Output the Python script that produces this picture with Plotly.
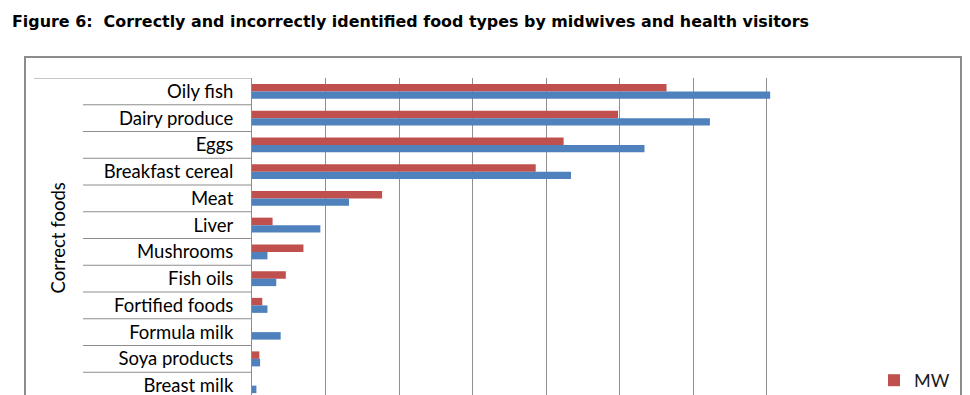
import plotly.graph_objects as go

# ---- data ----
categories = ["Oily fish", "Dairy produce", "Eggs", "Breakfast cereal", "Meat", "Liver",
              "Mushrooms", "Fish oils", "Fortified foods", "Formula milk", "Soya products",
              "Breast milk"]
mw_values = [56.4, 49.8, 42.4, 38.6, 17.7, 2.8, 7.0, 4.6, 1.4, 0.0, 1.0, 0.0]
hv_values = [70.5, 62.3, 53.4, 43.4, 13.2, 9.3, 2.1, 3.3, 2.1, 3.9, 1.1, 0.6]
series_names = ["MW", "HV"]
group_label = "Correct foods"
title_text = "Figure 6:  Correctly and incorrectly identified food types by midwives and health visitors"

RED = "#C0504D"
BLUE = "#4F81BD"
GRID = "#8f8f8f"
FRAME = "#8c8c8c"
FONT = "Lato"

W, H = 970, 395
L, R, T, B = 252, 130, 78, 0
pw = W - L - R
ph = H - T - B


def px_x(x):
    return (x - L) / pw


def px_y(y):
    return (H - B - y) / ph


fig = go.Figure()
fig.add_trace(go.Bar(y=categories, x=mw_values, name=series_names[0], orientation="h",
                     marker=dict(color=RED, line=dict(width=0))))
# the HV legend entry lies below the visible (cropped) area of the reference
fig.add_trace(go.Bar(y=categories, x=hv_values, name=series_names[1], orientation="h",
                     showlegend=False, marker=dict(color=BLUE, line=dict(width=0))))

rows_visible = ph / 26.75

shapes = []
# outer chart frame
shapes.append(dict(type="rect", xref="paper", yref="paper",
                   x0=px_x(25), x1=px_x(961), y0=-0.2, y1=px_y(57),
                   line=dict(color=FRAME, width=2), layer="below"))
# category table lines
shapes.append(dict(type="line", xref="paper", yref="y", x0=px_x(34), x1=0,
                   y0=-0.5, y1=-0.5, line=dict(color=FRAME, width=1)))
for i in range(len(categories) - 1):
    shapes.append(dict(type="line", xref="paper", yref="y", x0=px_x(83), x1=0,
                       y0=i + 0.5, y1=i + 0.5, line=dict(color=FRAME, width=1)))

fig.update_layout(
    width=W, height=H,
    margin=dict(l=L, r=R, t=T, b=B, autoexpand=False),
    paper_bgcolor="white", plot_bgcolor="white",
    barmode="group", bargap=0.44, bargroupgap=0,
    font=dict(family=FONT, size=18, color="#000000"),
    title=dict(text="<b>" + title_text + "</b>", xref="container", yref="container",
               x=12 / W, xanchor="left", y=1 - 21 / H, yanchor="middle",
               font=dict(family="DejaVu Sans", size=15.9, color="#000000")),
    xaxis=dict(range=[0, 80], dtick=10, showgrid=True, gridcolor=GRID, gridwidth=1,
               zeroline=False, showticklabels=False, ticks="", showline=False,
               fixedrange=True),
    yaxis=dict(type="category", categoryorder="array", categoryarray=categories,
               range=[-0.5 + rows_visible, -0.5], showgrid=False, zeroline=False,
               showline=True, linecolor=FRAME, linewidth=1, ticks="",
               ticklabelstandoff=14, tickfont=dict(family=FONT, size=18.5, color="#000000"),
               fixedrange=True),
    legend=dict(x=px_x(874), xanchor="left", y=px_y(362), yanchor="top",
                traceorder="normal", bgcolor="rgba(0,0,0,0)",
                font=dict(family=FONT, size=18, color="#1a1a1a"), itemwidth=30),
    showlegend=True,
    shapes=shapes,
    annotations=[dict(text=group_label, xref="paper", yref="y", x=px_x(57), y=5.5,
                      textangle=-90, showarrow=False, xanchor="center", yanchor="middle",
                      font=dict(family=FONT, size=18.5, color="#000000"))],
)

fig.write_html("out.html", config={"displayModeBar": False},
               post_script="document.body.style.margin='0';document.body.style.overflow='hidden';")
